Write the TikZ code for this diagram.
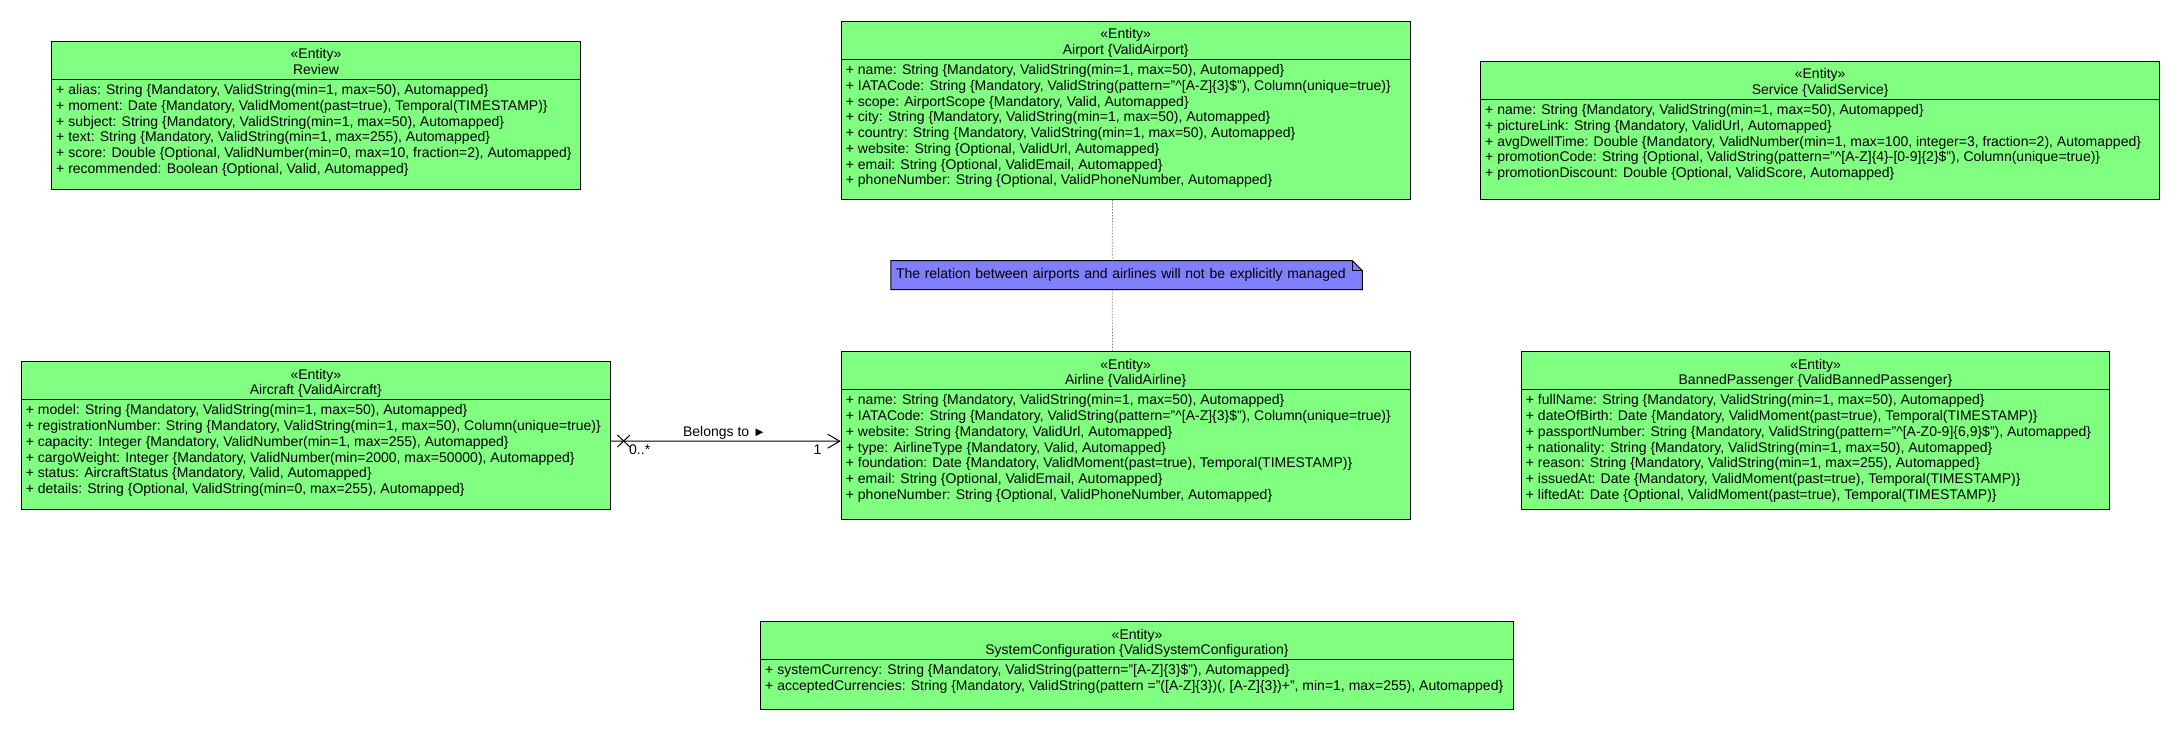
\documentclass[tikz,border=0pt]{standalone}
\usepackage{fontspec}
\setmainfont{Liberation Sans}
\usetikzlibrary{arrows.meta,backgrounds}
\definecolor{entgreen}{RGB}{128,255,128}
\definecolor{noteblue}{RGB}{128,128,255}
\definecolor{dotgray}{RGB}{120,120,120}
\tikzset{
  entbox/.style={draw=black, line width=1pt, fill=entgreen, inner sep=0pt, rectangle},
  hdrtext/.style={inner sep=0pt, font=\fontsize{14pt}{15.7pt}\selectfont},
  attrtext/.style={inner sep=0pt, align=left, font=\fontsize{14pt}{15.7pt}\selectfont},
  sepline/.style={draw=black, line width=1pt},
  notetext/.style={inner xsep=5pt, inner ysep=0pt, align=left, font=\fontsize{14pt}{15.7pt}\selectfont},
  noteshape/.style={fill=noteblue, draw=black, line width=1pt},
  dotline/.style={draw=dotgray, line width=0.7pt, dash pattern=on 1.5pt off 1.5pt},
  assoc/.style={draw=black, line width=1pt, -{Straight Barb[length=12pt,width=14pt]}},
  xmark/.style={draw=black, line width=1pt},
  lbl/.style={inner sep=0pt, font=\fontsize{14pt}{15.7pt}\selectfont}
}
% #1 name, #2 left x, #3 top y, #4 width, #5 height, #6 title, #7 attributes
\newcommand\umlentity[7]{%
  \node[entbox, minimum width=#4pt, minimum height=#5pt, anchor=north west] (#1) at (#2,-#3) {};
  \draw[sepline] ([yshift=-39pt]#1.north west) -- ([yshift=-39pt]#1.north east);
  \node[hdrtext, anchor=base] (#1-stereo) at ([yshift=-18.3pt]#1.north) {«Entity»};
  \node[hdrtext, anchor=base] (#1-title) at ([yshift=-33.8pt]#1.north) {#6};
  \node[attrtext, anchor=north west] (#1-attrs) at ([xshift=5pt,yshift=-43pt]#1.north west) {\rule{0pt}{11pt}#7};
}
\begin{document}
\begin{tikzpicture}[x=1pt,y=1pt]
\useasboundingbox (0,0) rectangle (2180,-730);
\begin{scope}[on background layer]
  \fill[white] (0,0) rectangle (2180,-730);
\end{scope}

\umlentity{review}{51}{40.7}{529}{148.3}{Review}{%
+ alias: String \{Mandatory, ValidString(min=1, max=50), Automapped\}\\
+ moment: Date \{Mandatory, ValidMoment(past=true), Temporal(TIMESTAMP)\}\\
+ subject: String \{Mandatory, ValidString(min=1, max=50), Automapped\}\\
+ text: String \{Mandatory, ValidString(min=1, max=255), Automapped\}\\
+ score: Double \{Optional, ValidNumber(min=0, max=10, fraction=2), Automapped\}\\
+ recommended: Boolean \{Optional, Valid, Automapped\}}

\umlentity{airport}{840.7}{20.7}{569}{178.3}{Airport \{ValidAirport\}}{%
+ name: String \{Mandatory, ValidString(min=1, max=50), Automapped\}\\
+ IATACode: String \{Mandatory, ValidString(pattern="\textasciicircum[A-Z]\{3\}\$"), Column(unique=true)\}\\
+ scope: AirportScope \{Mandatory, Valid, Automapped\}\\
+ city: String \{Mandatory, ValidString(min=1, max=50), Automapped\}\\
+ country: String \{Mandatory, ValidString(min=1, max=50), Automapped\}\\
+ website: String \{Optional, ValidUrl, Automapped\}\\
+ email: String \{Optional, ValidEmail, Automapped\}\\
+ phoneNumber: String \{Optional, ValidPhoneNumber, Automapped\}}

\umlentity{service}{1480}{60.7}{679.3}{138.6}{Service \{ValidService\}}{%
+ name: String \{Mandatory, ValidString(min=1, max=50), Automapped\}\\
+ pictureLink: String \{Mandatory, ValidUrl, Automapped\}\\
+ avgDwellTime: Double \{Mandatory, ValidNumber(min=1, max=100, integer=3, fraction=2), Automapped\}\\
+ promotionCode: String \{Optional, ValidString(pattern="\textasciicircum[A-Z]\{4\}-[0-9]\{2\}\$"), Column(unique=true)\}\\
+ promotionDiscount: Double \{Optional, ValidScore, Automapped\}}

\umlentity{aircraft}{20.6}{360.7}{589.4}{148.3}{Aircraft \{ValidAircraft\}}{%
+ model: String \{Mandatory, ValidString(min=1, max=50), Automapped\}\\
+ registrationNumber: String \{Mandatory, ValidString(min=1, max=50), Column(unique=true)\}\\
+ capacity: Integer \{Mandatory, ValidNumber(min=1, max=255), Automapped\}\\
+ cargoWeight: Integer \{Mandatory, ValidNumber(min=2000, max=50000), Automapped\}\\
+ status: AircraftStatus \{Mandatory, Valid, Automapped\}\\
+ details: String \{Optional, ValidString(min=0, max=255), Automapped\}}

\umlentity{airline}{840.7}{350.7}{569}{168.6}{Airline \{ValidAirline\}}{%
+ name: String \{Mandatory, ValidString(min=1, max=50), Automapped\}\\
+ IATACode: String \{Mandatory, ValidString(pattern="\textasciicircum[A-Z]\{3\}\$"), Column(unique=true)\}\\
+ website: String \{Mandatory, ValidUrl, Automapped\}\\
+ type: AirlineType \{Mandatory, Valid, Automapped\}\\
+ foundation: Date \{Mandatory, ValidMoment(past=true), Temporal(TIMESTAMP)\}\\
+ email: String \{Optional, ValidEmail, Automapped\}\\
+ phoneNumber: String \{Optional, ValidPhoneNumber, Automapped\}}

\umlentity{banned}{1520.7}{350.7}{588.6}{158.6}{BannedPassenger \{ValidBannedPassenger\}}{%
+ fullName: String \{Mandatory, ValidString(min=1, max=50), Automapped\}\\
+ dateOfBirth: Date \{Mandatory, ValidMoment(past=true), Temporal(TIMESTAMP)\}\\
+ passportNumber: String \{Mandatory, ValidString(pattern="\textasciicircum[A-Z0-9]\{6,9\}\$"), Automapped\}\\
+ nationality: String \{Mandatory, ValidString(min=1, max=50), Automapped\}\\
+ reason: String \{Mandatory, ValidString(min=1, max=255), Automapped\}\\
+ issuedAt: Date \{Mandatory, ValidMoment(past=true), Temporal(TIMESTAMP)\}\\
+ liftedAt: Date \{Optional, ValidMoment(past=true), Temporal(TIMESTAMP)\}}

\umlentity{sysconf}{760}{620.7}{753}{88.3}{SystemConfiguration \{ValidSystemConfiguration\}}{%
+ systemCurrency: String \{Mandatory, ValidString(pattern="[A-Z]\{3\}\$"), Automapped\}\\
+ acceptedCurrencies: String \{Mandatory, ValidString(pattern ="([A-Z]\{3\})(, [A-Z]\{3\})+", min=1, max=255), Automapped\}}

% note
\node[notetext, minimum width=471.2pt, minimum height=28.6pt, text width=461.2pt, anchor=north west] (note) at (890.8,-260.7)
  {The relation between airports and airlines will not be explicitly managed};
\begin{scope}[on background layer]
  \path[noteshape] (note.north west) -- ([xshift=-10pt]note.north east) -- ([yshift=-10pt]note.north east)
    -- (note.south east) -- (note.south west) -- cycle;
  \draw[black, line width=1pt] ([xshift=-10pt]note.north east) |- ([yshift=-10pt]note.north east);
\end{scope}
\draw[dotline] ([xshift=-13.2pt]airport.south) -- ([xshift=-14.4pt]note.north);
\draw[dotline] ([xshift=-14.4pt]note.south) -- ([xshift=-13.2pt]airline.north);

% association
\draw[assoc] ([yshift=-5.7pt]aircraft.east) -- ([yshift=-5.7pt]airline.west);
\coordinate (xm) at ([xshift=12.7pt,yshift=-5.7pt]aircraft.east);
\draw[xmark] ([shift={(-6.3,6)}]xm) -- ([shift={(6.3,-6)}]xm);
\draw[xmark] ([shift={(-6.3,-6)}]xm) -- ([shift={(6.3,6)}]xm);
\node[lbl, anchor=base] (belongs) at (724.5,-436.5) {Belongs to {\fontsize{13pt}{13pt}\selectfont ►}};
\node[lbl, anchor=base west] (mult0) at (629,-454) {0..*};
\node[lbl, anchor=base west] (mult1) at (813.3,-454) {1};
\end{tikzpicture}
\end{document}
